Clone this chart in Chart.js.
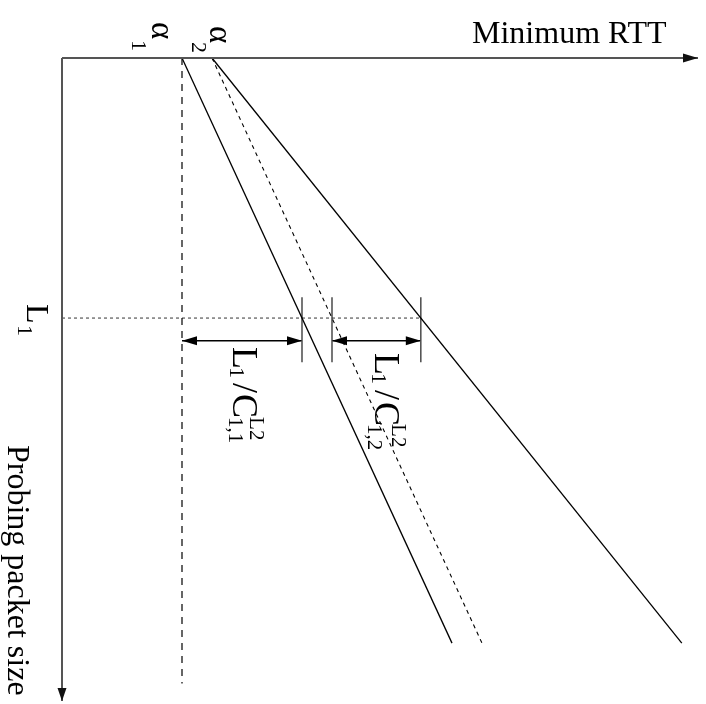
<!DOCTYPE html>
<html>
<head>
<meta charset="utf-8">
<script src="https://cdn.jsdelivr.net/npm/chart.js@4/dist/chart.umd.min.js"></script>
<style>
  html, body { margin: 0; padding: 0; background: #fff; }
  #wrap { width: 706px; height: 704px; }
</style>
</head>
<body>
<div id="wrap"><canvas id="c"></canvas></div>
<script>
// diagram values (x = minimum RTT, y = probing packet size)
const rttIntercept = [2.0, 2.5];      // alpha_1, alpha_2
const delayPerSize = [0.5, 0.87];     // slopes 1/C for the two links
const probeL1 = 4;                    // packet size L1
const sizeEnd = 9;                    // where the sloped lines stop
const baseEnd = 9.62;                 // where the alpha_1 guide stops
const axisMax = [10.6, 9.89];         // x and y extent of the axes
const markSpan = [3.68, 4.68];        // vertical extent of the marks at L1
const dimLevel = 4.35;                // y of the dimension arrows

const FONT = '"Liberation Serif", "Times New Roman", serif';

function seg(a, b, color, width, dash) {
  return {
    data: [a, b],
    showLine: true,
    pointRadius: 0,
    borderColor: color,
    borderWidth: width,
    borderDash: dash || [],
    fill: false,
    clip: false,
  };
}

const at = (a, k, y) => a + k * y;
const cross1 = at(rttIntercept[0], delayPerSize[0], probeL1);
const cross2 = at(rttIntercept[1], delayPerSize[0], probeL1);
const cross3 = at(rttIntercept[1], delayPerSize[1], probeL1);

const datasets = [
  // axes
  seg({ x: 0, y: 0 }, { x: axisMax[0], y: 0 }, "#555", 2),
  seg({ x: 0, y: 0 }, { x: 0, y: axisMax[1] }, "#555", 2),
  // alpha_1 vertical guide
  seg({ x: rttIntercept[0], y: 0 }, { x: rttIntercept[0], y: baseEnd }, "#000", 1.2, [7, 6]),
  // link lines
  seg({ x: rttIntercept[0], y: 0 }, { x: at(rttIntercept[0], delayPerSize[0], sizeEnd), y: sizeEnd }, "#000", 1.3),
  seg({ x: rttIntercept[1], y: 0 }, { x: at(rttIntercept[1], delayPerSize[0], sizeEnd), y: sizeEnd }, "#000", 1.1, [4, 4]),
  seg({ x: rttIntercept[1], y: 0 }, { x: at(rttIntercept[1], delayPerSize[1], sizeEnd), y: sizeEnd }, "#000", 1.3),
  // L1 level
  seg({ x: 0, y: probeL1 }, { x: cross3, y: probeL1 }, "#333", 1, [3, 3]),
  // marks at the crossings
  ...[cross1, cross2, cross3].map((x) =>
    seg({ x: x, y: markSpan[0] }, { x: x, y: markSpan[1] }, "#555", 1.6)
  ),
  // dimension arrows
  seg({ x: rttIntercept[0], y: dimLevel }, { x: cross1, y: dimLevel }, "#000", 1.5),
  seg({ x: cross2, y: dimLevel }, { x: cross3, y: dimLevel }, "#000", 1.5),
];

function arrowHead(ctx, tx, ty, dx, dy, len, half) {
  const px = -dy, py = dx;
  ctx.beginPath();
  ctx.moveTo(tx, ty);
  ctx.lineTo(tx - dx * len + px * half, ty - dy * len + py * half);
  ctx.lineTo(tx - dx * len - px * half, ty - dy * len - py * half);
  ctx.closePath();
  ctx.fill();
}

// text rotated a quarter turn clockwise; rise > 0 moves toward the right of the page
function rotText(ctx, x, y, runs) {
  ctx.save();
  ctx.translate(x, y);
  ctx.rotate(Math.PI / 2);
  ctx.textBaseline = "alphabetic";
  ctx.textAlign = "left";
  runs.forEach((r) => {
    ctx.font = r.size + "px " + FONT;
    ctx.fillText(r.t, r.at, -r.rise);
  });
  ctx.restore();
}

const decor = {
  id: "decor",
  afterDatasetsDraw(chart) {
    const ctx = chart.ctx;
    const sx = chart.scales.x, sy = chart.scales.y;
    const X = (v) => sx.getPixelForValue(v);
    const Y = (v) => sy.getPixelForValue(v);
    ctx.save();

    // axis arrowheads
    ctx.fillStyle = "#111";
    arrowHead(ctx, X(axisMax[0]), Y(0), 1, 0, 15, 4.5);
    arrowHead(ctx, X(0), Y(axisMax[1]), 0, 1, 13, 4.5);

    // dimension arrowheads
    ctx.fillStyle = "#000";
    const ay = Y(dimLevel);
    arrowHead(ctx, X(rttIntercept[0]), ay, -1, 0, 15, 4.5);
    arrowHead(ctx, X(cross1), ay, 1, 0, 15, 4.5);
    arrowHead(ctx, X(cross2), ay, -1, 0, 15, 4.5);
    arrowHead(ctx, X(cross3), ay, 1, 0, 15, 4.5);

    // horizontal axis title
    ctx.font = "32px " + FONT;
    ctx.textBaseline = "alphabetic";
    ctx.fillText("Minimum RTT", 472, 43);

    // alpha labels
    const a1 = X(rttIntercept[0]), a2 = X(rttIntercept[1]);
    rotText(ctx, a1 - 30, 22, [{ t: "\u03b1", size: 33, at: 0, rise: 0 }]);
    rotText(ctx, a1 - 50, 40, [{ t: "1", size: 22, at: 0, rise: 0 }]);
    rotText(ctx, a2 - 2, 26, [{ t: "\u03b1", size: 33, at: 0, rise: 0 }]);
    rotText(ctx, a2 - 20, 42, [{ t: "2", size: 22, at: 0, rise: 0 }]);

    // L1 on the size axis
    const l1 = Y(probeL1);
    rotText(ctx, 27, l1 - 14, [
      { t: "L", size: 32, at: 0, rise: 0 },
      { t: "1", size: 22, at: 21, rise: -9 },
    ]);

    // vertical axis title
    rotText(ctx, 8, 445, [{ t: "Probing packet size", size: 32, at: 0, rise: 0 }]);

    // dimension labels
    rotText(ctx, a1 + 51, l1 + 29, [
      { t: "L", size: 36, at: 0, rise: 0 },
      { t: "1", size: 22, at: 20, rise: -3 },
      { t: "/", size: 36, at: 36, rise: 0 },
      { t: "C", size: 36, at: 47, rise: 0 },
      { t: "L2", size: 21, at: 70, rise: 17 },
      { t: "1,1", size: 21, at: 70, rise: -4 },
    ]);
    rotText(ctx, X(cross2) + 43, l1 + 35, [
      { t: "L", size: 36, at: 0, rise: 0 },
      { t: "1", size: 22, at: 20, rise: -3 },
      { t: "/", size: 36, at: 37, rise: 0 },
      { t: "C", size: 36, at: 49, rise: 0 },
      { t: "L2", size: 21, at: 71, rise: 17 },
      { t: "1,2", size: 21, at: 71, rise: -7 },
    ]);

    ctx.restore();
  },
};

new Chart(document.getElementById("c"), {
  type: "scatter",
  data: { datasets },
  options: {
    animation: false,
    responsive: true,
    maintainAspectRatio: false,
    layout: { padding: { left: 62, top: 58, right: 8, bottom: 3 } },
    plugins: { legend: { display: false }, tooltip: { enabled: false } },
    scales: {
      x: { type: "linear", min: 0, max: axisMax[0], display: false },
      y: { type: "linear", min: 0, max: axisMax[1], reverse: true, display: false },
    },
  },
  plugins: [decor],
});
</script>
</body>
</html>
